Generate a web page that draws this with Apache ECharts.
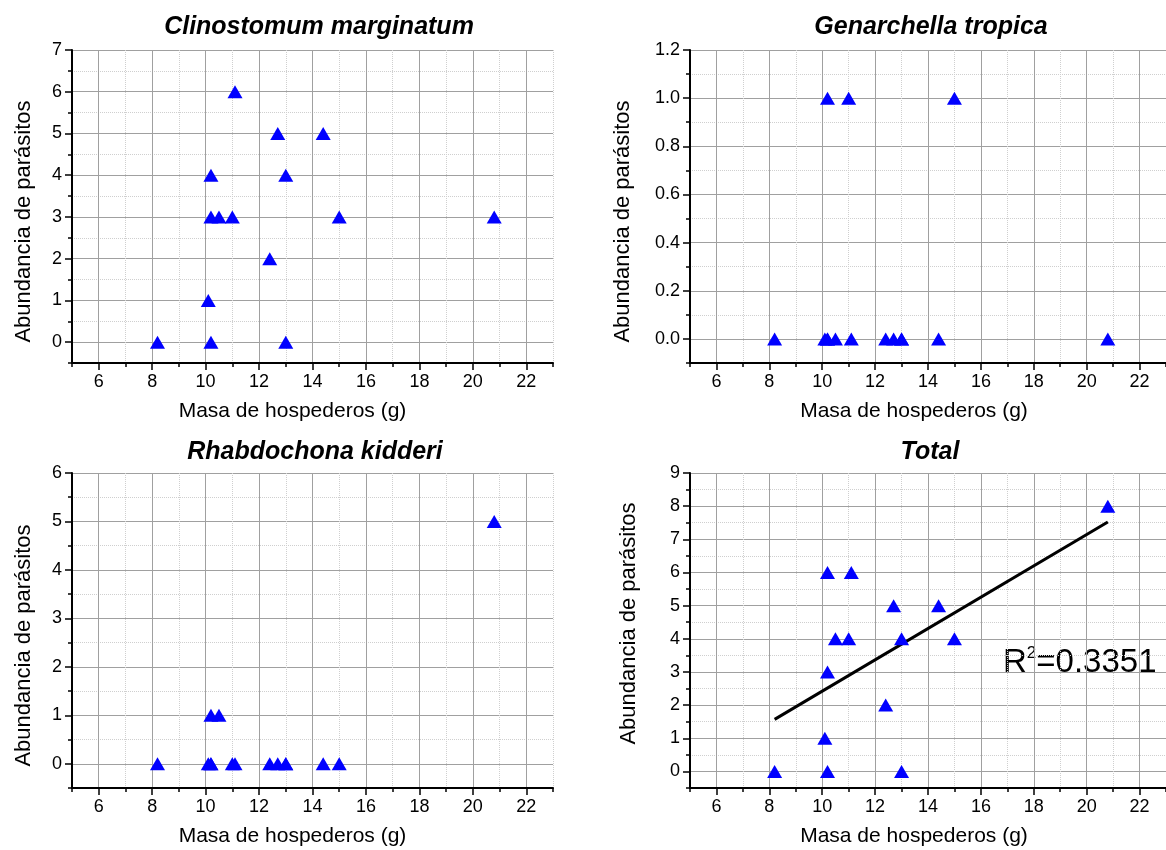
<!DOCTYPE html>
<html>
<head>
<meta charset="utf-8">
<script src="https://cdn.jsdelivr.net/npm/echarts@6/dist/echarts.min.js"></script>
<style>
html,body{margin:0;padding:0;background:#fff;}
#c{width:1166px;height:850px;}
</style>
</head>
<body>
<div id="c"></div>
<script>
// ---------- data ----------
const panelTitles = ['Clinostomum marginatum', 'Genarchella tropica', 'Rhabdochona kidderi', 'Total'];
const xTitle = 'Masa de hospederos (g)';
const yTitle = 'Abundancia de parásitos';

// tick categories (major + minor positions, low to high)
const xTicks = ['5','6','7','8','9','10','11','12','13','14','15','16','17','18','19','20','21','22','23'];
const yTicksClino = ['-0.5','0','0.5','1','1.5','2','2.5','3','3.5','4','4.5','5','5.5','6','6.5','7'];
const yTicksGenar = ['-0.1','0.0','0.1','0.2','0.3','0.4','0.5','0.6','0.7','0.8','0.9','1.0','1.1','1.2'];
const yTicksRhabd = ['-0.5','0','0.5','1','1.5','2','2.5','3','3.5','4','4.5','5','5.5','6'];
const yTicksTotal = ['-0.5','0','0.5','1','1.5','2','2.5','3','3.5','4','4.5','5','5.5','6','6.5','7','7.5','8','8.5','9'];

// Clinostomum marginatum
const clinoMass  = [11.1, 12.7, 14.4, 10.2, 13.0, 10.2, 10.5, 11.0, 15.0, 20.8, 12.4, 10.1, 8.2, 10.2, 13.0];
const clinoAbund = [6, 5, 5, 4, 4, 3, 3, 3, 3, 3, 2, 1, 0, 0, 0];
// Genarchella tropica
const genarMass  = [10.2, 11.0, 15.0, 8.2, 10.1, 10.2, 10.2, 10.5, 11.1, 12.4, 12.7, 13.0, 13.0, 14.4, 20.8];
const genarAbund = [1, 1, 1, 0, 0, 0, 0, 0, 0, 0, 0, 0, 0, 0, 0];
// Rhabdochona kidderi
const rhabdMass  = [20.8, 10.2, 10.5, 8.2, 10.1, 10.2, 10.2, 11.0, 11.1, 12.4, 12.7, 13.0, 13.0, 14.4, 15.0];
const rhabdAbund = [5, 1, 1, 0, 0, 0, 0, 0, 0, 0, 0, 0, 0, 0, 0];
// Total
const totalMass  = [10.2, 11.1, 12.7, 14.4, 10.5, 11.0, 13.0, 15.0, 10.2, 12.4, 10.1, 8.2, 10.2, 13.0, 20.8];
const totalAbund = [6, 6, 5, 5, 4, 4, 4, 4, 3, 2, 1, 0, 0, 0, 8];
// fitted line
const fitMass  = [8.2, 20.8];
const fitAbund = [1.57, 7.52];
const r2Text = ['R', '2', '=0.3351'];

// ---------- layout ----------
const FONT = 'Arial, "Liberation Sans", Helvetica, sans-serif';
const grids = [
  {left: 72,  top: 50,  width: 481, height: 313},
  {left: 690, top: 50,  width: 481, height: 313},
  {left: 72,  top: 473, width: 481, height: 315},
  {left: 690, top: 473, width: 481, height: 315}
];
const yNameGaps = [37, 56, 37, 50];
// padding that slides the rotated y title along the axis
const yNamePad = [[0, 30, 0, 0], [0, 30, 0, 0], [0, 30, 0, 0], [0, 0, 0, 14]];
const xNameGap = 38;
const xNameShift = [40, 28, 40, 28];
const titlePos = [[319, 27], [931, 27], [315, 452], [930, 452]];
const yTickSets = [yTicksClino, yTicksGenar, yTicksRhabd, yTicksTotal];

const isMajor = (i) => i % 2 === 1;
const isMinor = (i) => i % 2 === 0;

const xAxes = [], yAxes = [];
grids.forEach((g, gi) => {
  // x: data axis
  xAxes.push({type: 'value', gridIndex: gi, position: 'bottom', min: +xTicks[0], max: +xTicks[xTicks.length - 1], show: false, axisLine: {onZero: false}});
  // x: minor ticks + dotted grid
  xAxes.push({type: 'category', gridIndex: gi, position: 'bottom', data: xTicks, boundaryGap: false,
    axisLine: {show: false, onZero: false},
    axisTick: {show: true, interval: 0, length: 4, lineStyle: {color: '#000', width: 1.5}},
    axisLabel: {show: false},
    splitLine: {show: true, interval: isMinor, lineStyle: {color: '#cfcfcf', type: 'dotted', width: 1}}
  });
  // x: major ticks + labels + solid grid
  xAxes.push({type: 'category', gridIndex: gi, position: 'bottom', data: xTicks, boundaryGap: false,
    axisLine: {show: true, onZero: false, lineStyle: {color: '#000', width: 2}},
    axisTick: {show: true, interval: isMajor, length: 7, lineStyle: {color: '#000', width: 1.5}},
    axisLabel: {interval: isMajor, color: '#000', fontSize: 18, fontFamily: FONT, margin: 10},
    splitLine: {show: true, interval: isMajor, lineStyle: {color: '#a0a0a0', width: 1}},
    name: xTitle, nameLocation: 'middle', nameGap: xNameGap,
    nameTextStyle: {color: '#000', fontSize: 21, fontFamily: FONT, padding: [0, xNameShift[gi], 0, 0]}
  });
  const yt = yTickSets[gi];
  yAxes.push({type: 'value', gridIndex: gi, position: 'left', min: +yt[0], max: +yt[yt.length - 1], show: false, axisLine: {onZero: false}});
  yAxes.push({type: 'category', gridIndex: gi, position: 'left', data: yt, boundaryGap: false,
    axisLine: {show: false, onZero: false},
    axisTick: {show: true, interval: 0, length: 4, lineStyle: {color: '#000', width: 1.5}},
    axisLabel: {show: false},
    splitLine: {show: true, interval: isMinor, lineStyle: {color: '#cfcfcf', type: 'dotted', width: 1}}
  });
  yAxes.push({type: 'category', gridIndex: gi, position: 'left', data: yt, boundaryGap: false,
    axisLine: {show: true, onZero: false, lineStyle: {color: '#000', width: 2}},
    axisTick: {show: true, interval: isMajor, length: 7, lineStyle: {color: '#000', width: 1.5}},
    axisLabel: {interval: isMajor, color: '#000', fontSize: 18, fontFamily: FONT, margin: 10},
    splitLine: {show: true, interval: isMajor, lineStyle: {color: '#a0a0a0', width: 1}},
    name: yTitle, nameLocation: 'middle', nameGap: yNameGaps[gi],
    nameTextStyle: {color: '#000', fontSize: 22, fontFamily: FONT, padding: yNamePad[gi]}
  });
});

const pairs = (xs, ys) => xs.map((x, i) => [x, ys[i]]);
const scatterStyle = {type: 'scatter', symbol: 'triangle', symbolSize: [15, 13], itemStyle: {color: '#0000ff', opacity: 1}, z: 5};
const series = [
  Object.assign({}, scatterStyle, {name: panelTitles[0], xAxisIndex: 0, yAxisIndex: 0, data: pairs(clinoMass, clinoAbund)}),
  Object.assign({}, scatterStyle, {name: panelTitles[1], xAxisIndex: 3, yAxisIndex: 3, data: pairs(genarMass, genarAbund)}),
  Object.assign({}, scatterStyle, {name: panelTitles[2], xAxisIndex: 6, yAxisIndex: 6, data: pairs(rhabdMass, rhabdAbund)}),
  Object.assign({}, scatterStyle, {name: panelTitles[3], xAxisIndex: 9, yAxisIndex: 9, data: pairs(totalMass, totalAbund)}),
  {type: 'line', name: 'fit', xAxisIndex: 9, yAxisIndex: 9, data: pairs(fitMass, fitAbund), symbol: 'none',
   lineStyle: {color: '#000', width: 3}, z: 4}
];

const graphics = panelTitles.map((t, i) => ({
  type: 'text', x: titlePos[i][0], y: titlePos[i][1],
  style: {text: t, fill: '#000', font: 'italic bold 25px ' + FONT, align: 'center', verticalAlign: 'middle', textAlign: 'center', textVerticalAlign: 'middle'}
}));
graphics.push({
  type: 'text', x: 1003, y: 663,
  style: {
    text: '{a|' + r2Text[0] + '}{s|' + r2Text[1] + '}{a|' + r2Text[2] + '}',
    rich: {
      a: {fontSize: 33, fontFamily: FONT, fill: '#000', color: '#000', lineHeight: 36},
      s: {fontSize: 17, fontFamily: FONT, fill: '#000', color: '#000', lineHeight: 17, verticalAlign: 'top'}
    },
    verticalAlign: 'middle', textVerticalAlign: 'middle'
  }
});

const chart = echarts.init(document.getElementById('c'), null, {renderer: 'canvas'});
chart.setOption({
  backgroundColor: '#fff',
  animation: false,
  grid: grids.map(g => Object.assign({containLabel: false}, g)),
  xAxis: xAxes,
  yAxis: yAxes,
  series: series,
  graphic: graphics
});
</script>
</body>
</html>
